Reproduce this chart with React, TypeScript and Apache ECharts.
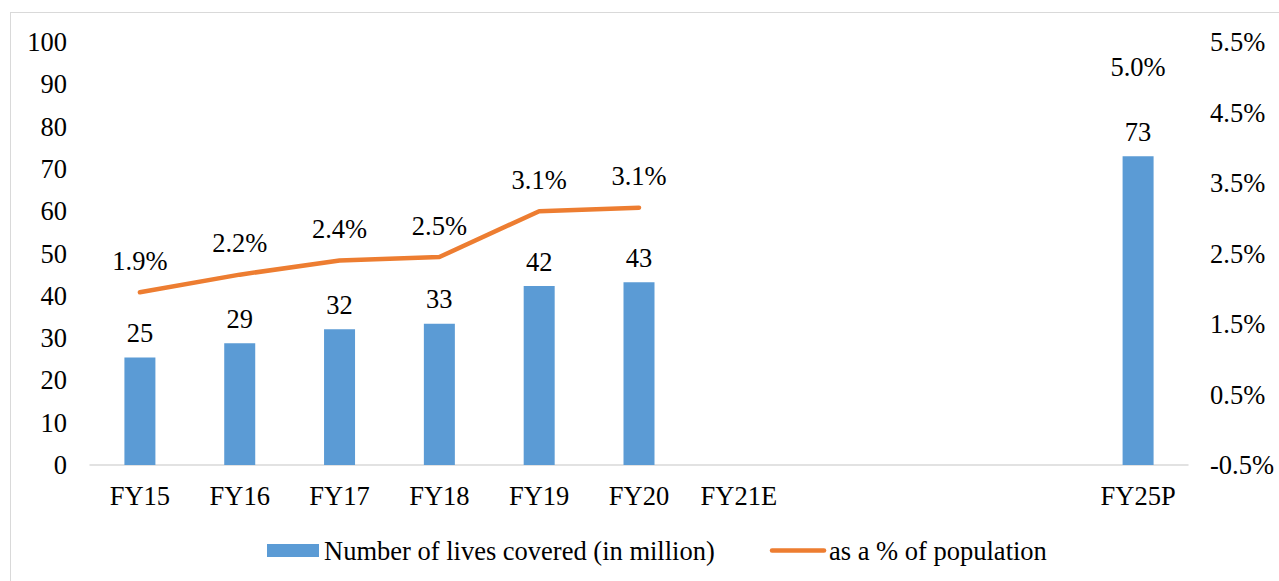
import React, { useEffect, useRef } from "react";
import * as echarts from "echarts";

const categories = ["FY15", "FY16", "FY17", "FY18", "FY19", "FY20", "FY21E", " ", "  ", "   ", "FY25P"];
const livesCovered = [25.4, 28.8, 32.1, 33.4, 42.3, 43.2, null, null, null, null, 73];
const pctPopulation = [1.95, 2.2, 2.4, 2.45, 3.1, 3.15, null, null, null, null, 5.0];
const leftTicks = { min: 0, max: 100, interval: 10 };
const rightTicks = { min: -0.5, max: 5.5, interval: 1 };
const barName = "Number of lives covered (in million)";
const lineName = "as a % of population";

const FONT = "Liberation Serif";
const FS = 26.5;

export default function App() {
  const ref = useRef<HTMLDivElement>(null);
  useEffect(() => {
    if (!ref.current) return;
    const chart = echarts.init(ref.current, null, { renderer: "svg" });
    const lineData = pctPopulation.map((v, i) =>
      i === pctPopulation.length - 1 && v != null
        ? { value: v, label: { distance: -3 } }
        : v
    );
    chart.setOption({
      animation: false,
      textStyle: { fontFamily: FONT, color: "#000" },
      grid: { left: 79, top: 29, width: 1098, height: 423 },
      legend: {
        left: 251,
        top: 519,
        itemWidth: 52,
        itemHeight: 13,
        itemGap: 55,
        textStyle: { fontFamily: FONT, fontSize: FS, color: "#000" },
        data: [
          { name: barName, icon: "rect" },
          { name: lineName, itemStyle: { opacity: 0 }, lineStyle: { width: 4.5, cap: "round", color: "#ED7D31" } },
        ],
      },
      xAxis: {
        type: "category",
        data: categories,
        axisLine: { lineStyle: { color: "#d9d9d9", width: 1.5 } },
        axisTick: { show: false },
        axisLabel: { fontFamily: FONT, fontSize: FS, color: "#000", margin: 17, interval: 0 },
      },
      yAxis: [
        {
          type: "value",
          min: leftTicks.min,
          max: leftTicks.max,
          interval: leftTicks.interval,
          splitLine: { show: false },
          axisLine: { show: false },
          axisTick: { show: false },
          axisLabel: { fontFamily: FONT, fontSize: FS, color: "#000", margin: 23 },
        },
        {
          type: "value",
          min: rightTicks.min,
          max: rightTicks.max,
          interval: rightTicks.interval,
          splitLine: { show: false },
          axisLine: { show: false },
          axisTick: { show: false },
          axisLabel: {
            fontFamily: FONT,
            fontSize: FS,
            color: "#000",
            margin: 22,
            formatter: (v: number) => v.toFixed(1) + "%",
          },
        },
      ],
      series: [
        {
          name: barName,
          type: "bar",
          data: livesCovered,
          barWidth: 31,
          itemStyle: { color: "#5B9BD5" },
          label: {
            show: true,
            position: "top",
            distance: 11,
            fontFamily: FONT,
            fontSize: FS,
            color: "#000",
            formatter: (p: any) => String(Math.round(p.value)),
          },
        },
        {
          name: lineName,
          type: "line",
          yAxisIndex: 1,
          data: lineData,
          symbol: "circle",
          symbolSize: 0,
          connectNulls: false,
          lineStyle: { color: "#ED7D31", width: 4.5, cap: "round" },
          itemStyle: { color: "#ED7D31" },
          label: {
            show: true,
            position: "top",
            distance: 18,
            fontFamily: FONT,
            fontSize: FS,
            color: "#000",
            formatter: (p: any) => {
              const v = Array.isArray(p.value) ? p.value[1] : p.value;
              return Number(v).toFixed(1) + "%";
            },
          },
        },
      ],
    });
    return () => chart.dispose();
  }, []);
  return (
    <div
      ref={ref}
      style={{
        position: "absolute",
        left: 10,
        top: 12,
        width: 1270,
        height: 570,
        border: "1px solid #d9d9d9",
        background: "#fff",
      }}
    />
  );
}
